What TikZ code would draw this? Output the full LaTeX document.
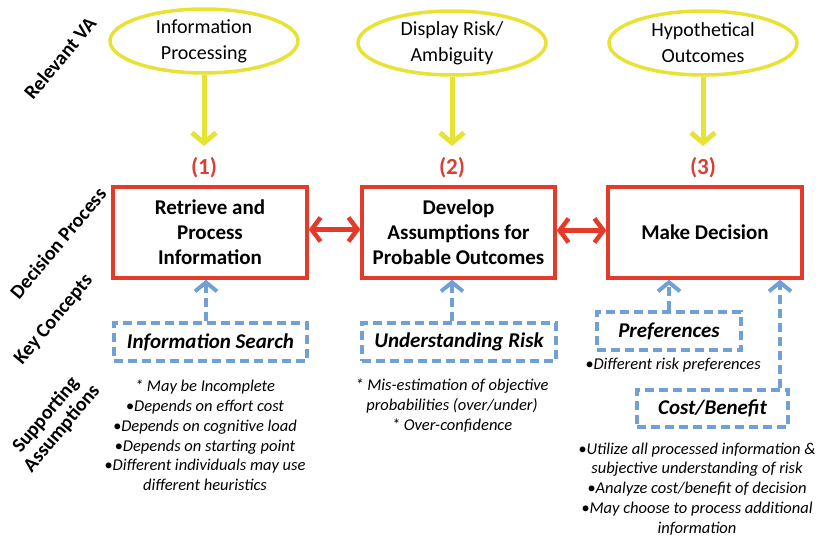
\documentclass[tikz,border=0pt]{standalone}
\usepackage{fontspec}
\setmainfont{Carlito}
\usetikzlibrary{arrows.meta,shapes.geometric}
\definecolor{vayel}{RGB}{232,226,52}
\definecolor{dpred}{RGB}{228,58,42}
\definecolor{numred}{RGB}{218,62,52}
\definecolor{kcblue}{RGB}{112,160,214}
\tikzset{
  vaell/.style={ellipse, draw=vayel, line width=3.5pt, fill=white, inner sep=0pt,
    minimum width=188pt, minimum height=64pt, align=center,
    font=\fontsize{20}{26}\selectfont},
  yarrow/.style={draw=vayel, line width=5pt,
    -{Straight Barb[length=10pt,width=24pt,line width=5pt]}},
  numlab/.style={text=numred, font=\bfseries\fontsize{23}{26}\selectfont},
  dbox/.style={draw=dpred, line width=3.5pt, fill=white, minimum height=91pt,
    align=center, inner sep=0pt, font=\bfseries\fontsize{21}{25}\selectfont},
  rarrow/.style={draw=dpred, line width=4.5pt,
    {Straight Barb[length=9pt,width=24pt,line width=4.5pt]}-{Straight Barb[length=9pt,width=24pt,line width=4.5pt]}},
  kbox/.style={draw=kcblue, line width=3.5pt, dash pattern=on 9pt off 5pt,
    minimum height=38pt, inner sep=0pt, align=center,
    font=\bfseries\itshape\fontsize{21}{24}\selectfont},
  barrow/.style={draw=kcblue, line width=4pt, dash pattern=on 9pt off 5pt,
    -{Straight Barb[length=9pt,width=22pt,line width=4pt]}},
  listtxt/.style={align=center, inner sep=0pt, font=\itshape\fontsize{16.5}{19.8}\selectfont},
  sidelab/.style={rotate=50, align=center, inner sep=0pt,
    font=\bfseries\fontsize{20}{21}\selectfont}
}
\begin{document}
\begin{tikzpicture}[x=1pt,y=-1pt]
\useasboundingbox[fill=white] (0,0) rectangle (825,546);

% side labels
\node[sidelab] (s1) at (60,58) {Relevant VA};
\node[sidelab] (s2) at (58,243) {Decision Process};
\node[sidelab] (s3) at (54,320) {Key Concepts};
\node[sidelab] (s4) at (54,422) {Supporting\\Assumptions};

% ellipses
\node[vaell] (e1) at (204,41) {Information\\Processing};
\node[vaell] (e2) at (452,43) {Display Risk/\\Ambiguity};
\node[vaell] (e3) at (703,43) {Hypothetical\\Outcomes};

% numbers
\node[numlab] (n1) at (204,168) {(1)};
\node[numlab] (n2) at (452,168) {(2)};
\node[numlab] (n3) at (703,168) {(3)};

\coordinate (t1) at (204,146);
\coordinate (t2) at (452,146);
\coordinate (t3) at (703,146);
\draw[yarrow] (e1.south) -- (t1);
\draw[yarrow] (e2.south) -- (t2);
\draw[yarrow] (e3.south) -- (t3);

% decision boxes
\node[dbox, minimum width=194pt] (b1) at (210,232.5) {Retrieve and\\Process\\Information};
\node[dbox, minimum width=193pt] (b2) at (458.5,232.5) {Develop\\Assumptions for\\Probable Outcomes};
\node[dbox, minimum width=194pt] (b3) at (705,232.5) {Make Decision};

\draw[rarrow] ([yshift=3pt]b1.east) -- ([yshift=3pt]b2.west);
\draw[rarrow] ([yshift=2pt]b2.east) -- ([yshift=2pt]b3.west);

% key concepts
\node[kbox, minimum width=193pt] (k1) at (210.5,342) {Information Search};
\node[kbox, minimum width=194pt] (k2) at (459,342) {Understanding Risk};
\node[kbox, minimum width=144pt] (k3) at (669,331) {Preferences};
\node[kbox, minimum width=151pt, minimum height=37pt] (k4) at (712.5,408.5) {Cost/Benefit};

\coordinate (a1) at (206,0);
\coordinate (a2) at (452,0);
\coordinate (a4) at (780,0);
\draw[barrow] (k1.north -| a1) -- (b1.south -| a1);
\draw[barrow] (k2.north -| a2) -- (b2.south -| a2);
\draw[barrow] (k3.north) -- (k3.north |- b3.south);
\draw[barrow] (k4.north -| a4) -- (b3.south -| a4);

% assumptions
\node[listtxt] (l1) at (205,435.5) {* May be Incomplete\\\textbullet Depends on effort cost\\\textbullet Depends on cognitive load\\\textbullet Depends on starting point\\\textbullet Different individuals may use\\different heuristics};
\node[listtxt] (l2) at (452,405.5) {* Mis-estimation of objective\\probabilities (over/under)\\* Over-confidence};
\node[listtxt] (l3) at (673,365) {\textbullet Different risk preferences};
\node[listtxt] (l4) at (697,489) {\textbullet Utilize all processed information \&\\subjective understanding of risk\\\textbullet Analyze cost/benefit of decision\\\textbullet May choose to process additional\\information};
\end{tikzpicture}
\end{document}
